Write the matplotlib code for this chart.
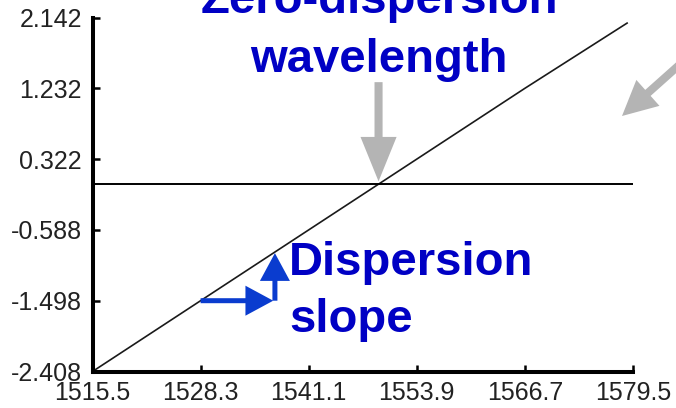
import numpy as np
import matplotlib
matplotlib.use("Agg")
import matplotlib.pyplot as plt

# dispersion curve (ps/nm/km) against wavelength (nm)
wavelength = [1515.5, 1528.3, 1541.1, 1553.9, 1566.7, 1578.8]
dispersion = [-2.408, -1.498, -0.588, 0.322, 1.232, 2.07]

x_ticks = [1515.5, 1528.3, 1541.1, 1553.9, 1566.7, 1579.5]
y_ticks = [-2.408, -1.498, -0.588, 0.322, 1.232, 2.142]
x_tick_labels = ["1515.5", "1528.3", "1541.1", "1553.9", "1566.7", "1579.5"]
y_tick_labels = ["-2.408", "-1.498", "-0.588", "0.322", "1.232", "2.142"]

# slope triangle: run from x0 to x1 along the curve
slope_x0 = 1528.3
slope_x1 = 1536.9

W, H, DPI = 676, 408, 100
fig = plt.figure(figsize=(W / DPI, H / DPI), dpi=DPI)
ax = fig.add_axes([92.5 / W, 1 - 371.5 / H, 540.5 / W, 354 / H])

ax.plot(wavelength, dispersion, color="#1a1a1a", linewidth=1.2)
ax.axhline(0, color="black", linewidth=1.4)

ax.set_xlim(x_ticks[0], x_ticks[-1])
ax.set_ylim(y_ticks[0], y_ticks[-1])
ax.set_xticks(x_ticks)
ax.set_xticklabels(x_tick_labels)
ax.set_yticks(y_ticks)
ax.set_yticklabels(y_tick_labels)

for side in ("top", "right"):
    ax.spines[side].set_visible(False)
for side in ("left", "bottom"):
    ax.spines[side].set_linewidth(2.9)
    ax.spines[side].set_color("black")
    ax.spines[side].set_capstyle("projecting")

ax.tick_params(direction="in", length=5, width=1.8, colors="black",
               labelcolor="#222222", labelsize=18)
ax.tick_params(axis="y", pad=7.5)
ax.tick_params(axis="x", pad=7)
for lbl in ax.get_xticklabels() + ax.get_yticklabels():
    lbl.set_family("Liberation Sans")

blue_text = "#0000c4"
blue_arrow = "#0a3ccf"
grey = "#b4b4b4"
bold = dict(family="Liberation Sans", weight="bold", fontsize=34, color=blue_text)

# zero-dispersion wavelength label and arrow
fig.text(379 / W, 1 - 13 / H, "Zero-dispersion", ha="center", va="baseline", **bold)
fig.text(379 / W, 1 - 72 / H, "wavelength", ha="center", va="baseline", **bold)

lambda0 = np.interp(0, dispersion, wavelength)
ax.annotate("", xy=(lambda0, 0), xytext=(0, 102), textcoords="offset pixels",
            arrowprops=dict(arrowstyle="simple,head_length=32,head_width=26,tail_width=5.8",
                            mutation_scale=1, color=grey, lw=0,
                            shrinkA=0, shrinkB=2))

# arrow pointing off to the right
ax.annotate("", xy=(622, H - 116), xycoords="figure pixels",
            xytext=(705, H - 42), textcoords="figure pixels",
            annotation_clip=False,
            arrowprops=dict(arrowstyle="simple,head_length=25,head_width=25,tail_width=5.8",
                            mutation_scale=1, color=grey, lw=0,
                            shrinkA=0, shrinkB=0))

# dispersion slope label and triangle arrows
fig.text(289 / W, 1 - 275 / H, "Dispersion", ha="left", va="baseline", **bold)
fig.text(289 / W, 1 - 332 / H, "slope", ha="left", va="baseline", **bold)

y0 = np.interp(slope_x0, wavelength, dispersion)
y1 = np.interp(slope_x1, wavelength, dispersion)
blue_style = "simple,head_length=20,head_width=21.6,tail_width=3.6"
ax.annotate("", xy=(slope_x1, y0), xytext=(slope_x0, y0),
            arrowprops=dict(arrowstyle=blue_style, mutation_scale=1,
                            color=blue_arrow, lw=0, shrinkA=0, shrinkB=0))
ax.annotate("", xy=(slope_x1 + 0.2, y1), xytext=(slope_x1 + 0.2, y0),
            arrowprops=dict(arrowstyle=blue_style, mutation_scale=1,
                            color=blue_arrow, lw=0, shrinkA=0, shrinkB=0))

fig.savefig("out.png", dpi=DPI)
